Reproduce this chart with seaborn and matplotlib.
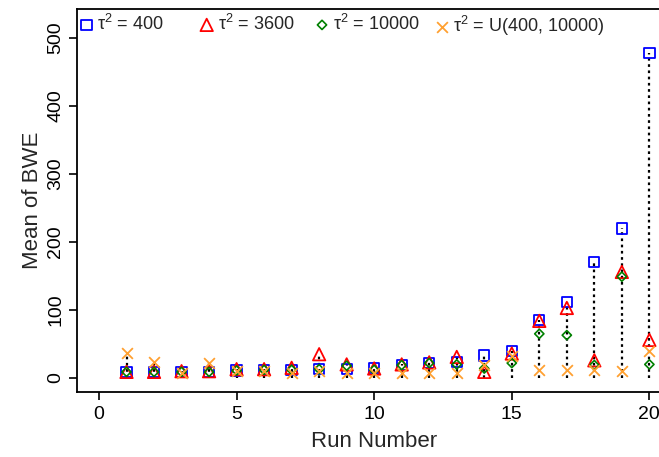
import numpy as np
import pandas as pd
import matplotlib
matplotlib.use("Agg")
import matplotlib.pyplot as plt
import seaborn as sns

# Mean of BWE per run
runs = list(range(1, 21))
tau_400 = [9, 9, 9, 9, 11, 12, 12, 13, 13, 15, 19, 22, 24, 33, 40, 85, 112, 171, 220, 478]
tau_3600 = [9, 9, 10, 10, 13, 13, 15, 35, 20, 14, 20, 23, 31, 9, 36, 84, 103, 26, 156, 56]
tau_10000 = [9, 9, 9, 9, 11, 12, 12, 13, 18, 12, 19, 22, 20, 14, 22, 65, 63, 19, 149, 20]
tau_unif = [37, 24, 8, 22, 10, 10, 8, 10, 8, 7, 8, 8, 7, 19, 33, 12, 12, 12, 10, 40]

labels = [r"$\tau^2$ = 400", r"$\tau^2$ = 3600", r"$\tau^2$ = 10000",
          r"$\tau^2$ = U(400, 10000)"]
x_ticks = [0, 5, 10, 15, 20]
y_ticks = [0, 100, 200, 300, 400, 500]

sns.set_style("white")
plt.rcParams["font.family"] = ["Liberation Sans", "DejaVu Sans"]
plt.rcParams["mathtext.fontset"] = "custom"
plt.rcParams["mathtext.rm"] = "Liberation Sans"
plt.rcParams["mathtext.it"] = "Liberation Sans"
plt.rcParams["mathtext.default"] = "regular"

fig = plt.figure(figsize=(6.59, 4.57), dpi=100)
ax = fig.add_axes([0.1168, 0.1422, 0.902, 0.838])

series = [tau_400, tau_3600, tau_10000, tau_unif]
top = np.max(np.array(series), axis=0)
ax.vlines(runs, 0, top, colors="black", linestyles=(0, (1.2, 1.6)), linewidth=1.6, zorder=1)

styles = [
    dict(marker="s", s=55, facecolor="none", edgecolor="#0000FF", linewidth=1.3),
    dict(marker="^", s=80, facecolor="none", edgecolor="#FF0000", linewidth=1.3),
    dict(marker="D", s=22, facecolor="none", edgecolor="#008000", linewidth=1.2),
    dict(marker="x", s=60, color="#FFA030", linewidth=1.3),
]
for vals, lab, st in zip(series, labels, styles):
    sns.scatterplot(x=runs, y=vals, ax=ax, label=lab, zorder=3, **st)

ax.set_xlim(-0.8, 20.8)
ax.set_ylim(-20.6, 542.6)
ax.set_xticks(x_ticks)
ax.set_yticks(y_ticks)
ax.set_yticklabels([str(v) for v in y_ticks], rotation=90, va="center")
ax.tick_params(axis="both", direction="out", length=6, width=1.2, labelsize=14,
               bottom=True, left=True, colors="black")
ax.tick_params(axis="x", pad=4)
ax.tick_params(axis="y", pad=3)
for sp in ax.spines.values():
    sp.set_color("black")
    sp.set_linewidth(1.3)

ax.set_xlabel("Run Number", fontsize=16, labelpad=6)
ax.set_ylabel("Mean of BWE", fontsize=16, labelpad=3)

# one legend per entry so the columns sit at even spacing, as in the reference
handles, labs = ax.get_legend_handles_labels()
ax.get_legend().remove()
x_anchor = [-0.002, 0.200, 0.394, 0.596]
for h, l, xa in zip(handles, labs, x_anchor):
    leg = matplotlib.legend.Legend(ax, [h], [l], loc="upper left", bbox_to_anchor=(xa, 0.993),
                                   frameon=False, fontsize=13, handletextpad=0.1,
                                   borderaxespad=0, borderpad=0.1, handlelength=1.0)
    ax.add_artist(leg)

fig.savefig("out.png", dpi=100)
